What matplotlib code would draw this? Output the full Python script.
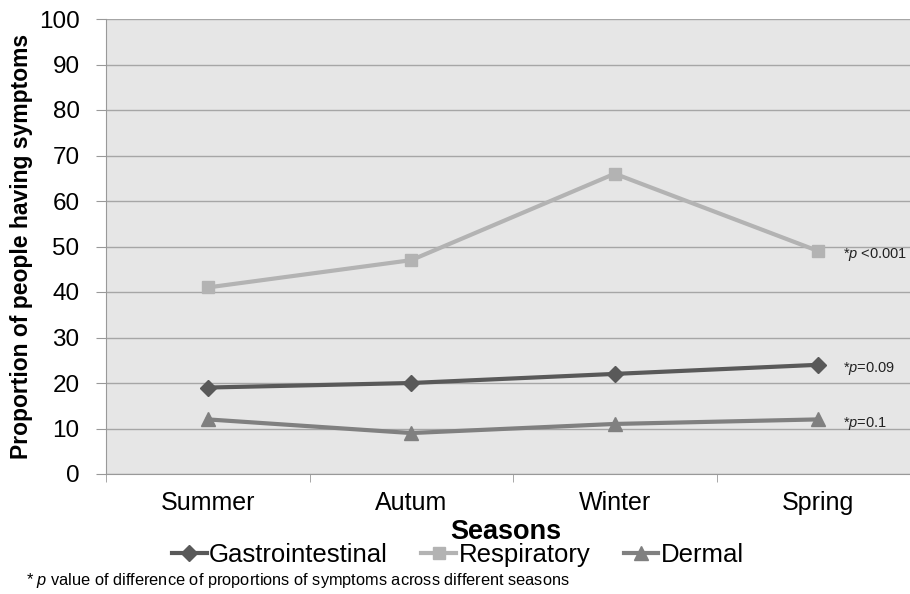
import matplotlib
matplotlib.use("Agg")
import matplotlib.pyplot as plt

# данные
seasons = ["Summer", "Autum", "Winter", "Spring"]
gastro = [19, 20, 22, 24]
resp = [41, 47, 66, 49]
dermal = [12, 9, 11, 12]
p_labels = ["*$p$ <0.001", "*$p$=0.09", "*$p$=0.1"]

plt.rcParams['font.family'] = ['Liberation Sans', 'DejaVu Sans']
plt.rcParams['mathtext.fontset'] = 'custom'
plt.rcParams['mathtext.it'] = 'Liberation Sans:italic'
plt.rcParams['mathtext.rm'] = 'Liberation Sans'

fig = plt.figure(figsize=(9.1, 5.94), dpi=100)
ax = fig.add_axes([106 / 910, 1 - 474 / 594, (920 - 106) / 910, (474 - 19) / 594])
ax.set_facecolor("#e6e6e6")

x = range(len(seasons))
ax.plot(x, gastro, color="#595959", lw=3, marker="D", ms=8, label="Gastrointestinal", zorder=3)
ax.plot(x, resp, color="#b3b3b3", lw=3, marker="s", ms=9, label="Respiratory", zorder=3)
ax.plot(x, dermal, color="#808080", lw=3, marker="^", ms=10, label="Dermal", zorder=3)

# подписи p-значений справа
for val, txt in zip([resp[-1], gastro[-1], dermal[-1]], p_labels):
    ax.text(3.12, val - 0.8, txt, fontsize=10.5, va="center", ha="left", color="#222222")

ax.set_xlim(-0.5, 3.5)
ax.set_ylim(0, 100)
ax.set_yticks(range(0, 101, 10))
ax.set_xticks(x)
ax.set_xticklabels(seasons)
ax.set_xticks([-0.5, 0.5, 1.5, 2.5], minor=True)
ax.tick_params(axis="x", which="major", length=0, labelsize=18, pad=12)
ax.tick_params(axis="x", which="minor", length=6, color="#999999")
ax.tick_params(axis="y", length=7, color="#999999", labelsize=17.5, pad=12)
ax.grid(axis="y", color="#a6a6a6", lw=1)
ax.set_axisbelow(True)
for s in ["top", "right"]:
    ax.spines[s].set_visible(False)
ax.spines["left"].set_color("#999999")
ax.spines["bottom"].set_color("#999999")

ax.set_ylabel("Proportion of people having symptoms", fontsize=16.5, fontweight="bold", labelpad=4)
fig.text(506 / 910, 1 - 532 / 594, "Seasons", fontsize=19.5, fontweight="bold", ha="center", va="center")

fig.legend(loc="center", bbox_to_anchor=(458 / 910, 1 - 555 / 594), ncol=3, frameon=False,
           fontsize=18.5, handlelength=1.35, handletextpad=0.1, columnspacing=1.3, borderpad=0)

fig.text(26 / 910, 1 - 580 / 594, "* $p$ value of difference of proportions of symptoms across different seasons",
         fontsize=11.8, ha="left", va="center")

fig.savefig("out.png", dpi=100)
